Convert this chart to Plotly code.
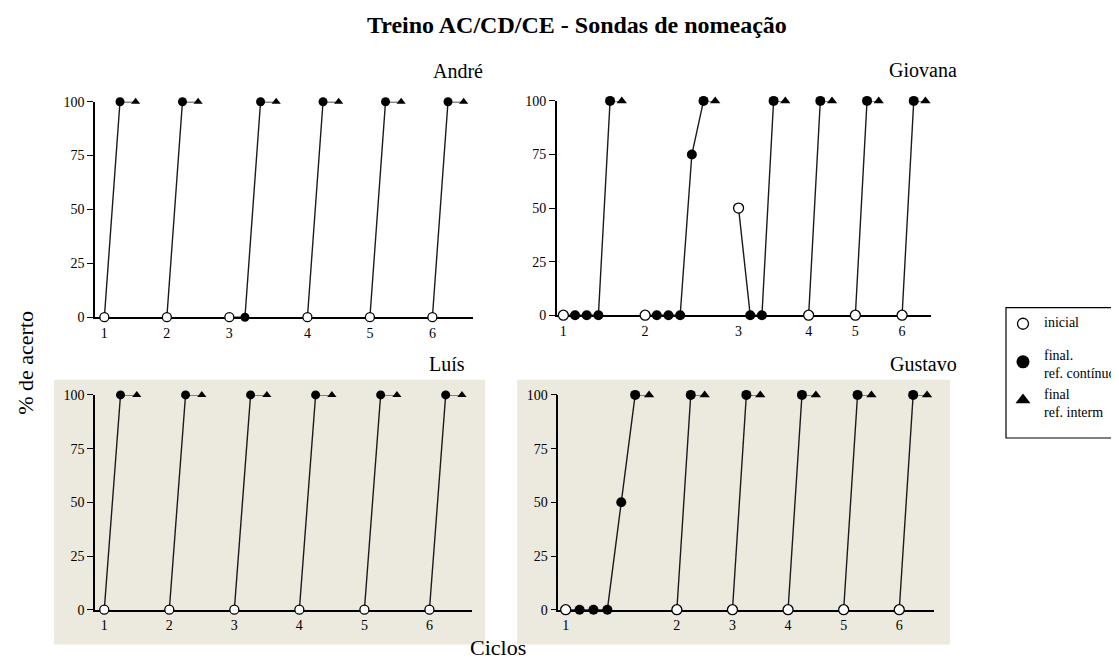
import plotly.graph_objects as go

W, H = 1119, 661
# where the page actually puts the figure in the photographed window (measured)
OFF_X, OFF_Y, SCALE_Y = 8, 15, 0.975
SERIF = "Liberation Serif, Times New Roman, serif"

# ---------------- data ----------------
title = "Treino AC/CD/CE - Sondas de nomeação"
cycle_labels = ["1", "2", "3", "4", "5", "6"]
participants = ["André", "Giovana", "Luís", "Gustavo"]

# % de acerto: initial probe, final probes (continuous reinforcement), final probe (intermittent)
andre_initial = [0, 0, 0, 0, 0, 0]
andre_final = [[100], [100], [0, 100], [100], [100], [100]]
andre_interm = [100, 100, 100, 100, 100, 100]

giovana_initial = [0, 0, 50, 0, 0, 0]
giovana_final = [[0, 0, 0, 100], [0, 0, 0, 75, 100], [0, 0, 100], [100], [100], [100]]
giovana_interm = [100, 100, 100, 100, 100, 100]

luis_initial = [0, 0, 0, 0, 0, 0]
luis_final = [[100], [100], [100], [100], [100], [100]]
luis_interm = [100, 100, 100, 100, 100, 100]

gustavo_initial = [0, 0, 0, 0, 0, 0]
gustavo_final = [[0, 0, 0, 50, 100], [100], [100], [100], [100], [100]]
gustavo_interm = [100, 100, 100, 100, 100, 100]

legend_labels = ["inicial", "final.<br>ref. contínuo", "final<br>ref. interm"]

# ---------------- layout helpers ----------------
def px(x):
    return (x - OFF_X) / W


def py(y):
    return 1 - ((y - OFF_Y) / SCALE_Y) / H


def sequence(initial, finals, interm):
    """Place the probes of each cycle on consecutive sessions, one empty slot between cycles."""
    xi, yi, xf, yf, xt, yt, xl, yl, starts = [], [], [], [], [], [], [], [], []
    pos = 0
    for a, fs, b in zip(initial, finals, interm):
        starts.append(pos)
        xi.append(pos); yi.append(a); xl.append(pos); yl.append(a)
        pos += 1
        for f in fs:
            xf.append(pos); yf.append(f); xl.append(pos); yl.append(f)
            pos += 1
        xt.append(pos); yt.append(b); xl.append(pos); yl.append(b)
        xl.append(None); yl.append(None)
        pos += 2
    return xi, yi, xf, yf, xt, yt, xl, yl, starts


panels = [
    # name, data, x-domain px, y-domain px (top,bottom), x-range, marker size, shaded, name right edge
    ("André", (andre_initial, andre_final, andre_interm), (95, 473), (101.5, 316.5), (-0.6, 23.6), 9, False, 485),
    ("Giovana", (giovana_initial, giovana_final, giovana_interm), (556.7, 930.7), (100.7, 314.5), (-0.57, 31.45), 10, False, 959),
    ("Luís", (luis_initial, luis_final, luis_interm), (95, 471.7), (394, 608.3), (-0.57, 22.6), 9, True, 467),
    ("Gustavo", (gustavo_initial, gustavo_final, gustavo_interm), (558.3, 934), (394, 608.3), (-0.53, 26.5), 10, True, 959),
]
shade_boxes = {"Luís": (54, 379, 485, 643), "Gustavo": (517, 379, 950, 643)}
BEIGE = "#ECE9DF"

fig = go.Figure()
layout = dict(
    width=W, height=H,
    margin=dict(l=0, r=0, t=0, b=0),
    paper_bgcolor="white", plot_bgcolor="rgba(0,0,0,0)",
    showlegend=False,
    font=dict(family=SERIF, color="black"),
)
shapes = []
annotations = []

for i, (name, data, xd, yd, xr, msize, shaded, name_right) in enumerate(panels, start=1):
    xi, yi, xf, yf, xt, yt, xl, yl, starts = sequence(*data)
    xa = "x" if i == 1 else f"x{i}"
    ya = "y" if i == 1 else f"y{i}"
    fig.add_trace(go.Scatter(x=xl, y=yl, mode="lines", xaxis=xa, yaxis=ya,
                             line=dict(color="#1a1a1a", width=1.4), cliponaxis=False, hoverinfo="skip"))
    fig.add_trace(go.Scatter(x=xf, y=yf, mode="markers", xaxis=xa, yaxis=ya, cliponaxis=False,
                             marker=dict(symbol="circle", size=msize, color="black")))
    fig.add_trace(go.Scatter(x=xt, y=yt, mode="markers", xaxis=xa, yaxis=ya, cliponaxis=False,
                             marker=dict(symbol="triangle-up", size=msize - 1, color="black")))
    fig.add_trace(go.Scatter(x=xi, y=yi, mode="markers", xaxis=xa, yaxis=ya, cliponaxis=False,
                             marker=dict(symbol="circle", size=msize, color="white",
                                         line=dict(color="black", width=1.3))))
    xkey = "xaxis" if i == 1 else f"xaxis{i}"
    ykey = "yaxis" if i == 1 else f"yaxis{i}"
    layout[xkey] = dict(domain=[px(xd[0]), px(xd[1])], range=list(xr), anchor=ya,
                        showline=True, linecolor="black", linewidth=1.5, showgrid=False, zeroline=False,
                        tickvals=starts, ticktext=cycle_labels, ticks="", layer="below traces",
                        ticklabelstandoff=2,
                        tickfont=dict(family=SERIF, size=14, color="black"), fixedrange=True)
    layout[ykey] = dict(domain=[py(yd[1]), py(yd[0])], range=[0, 100], anchor=xa,
                        showline=True, linecolor="black", linewidth=1.5, showgrid=False, zeroline=False,
                        tickvals=[0, 25, 50, 75, 100], ticks="outside", ticklen=6, tickwidth=1.3,
                        tickcolor="black", layer="below traces",
                        tickfont=dict(family=SERIF, size=14, color="black"), fixedrange=True)
    annotations.append(dict(text=name, xref="paper", yref="paper", x=px(name_right),
                            y=py(yd[0] - 31), xanchor="right", yanchor="middle", showarrow=False,
                            font=dict(family=SERIF, size=20, color="black")))
    if shaded:
        x0, y0, x1, y1 = shade_boxes[name]
        shapes.append(dict(type="rect", xref="paper", yref="paper", x0=px(x0), x1=px(x1),
                           y0=py(y1), y1=py(y0), fillcolor=BEIGE, line=dict(width=0), layer="below"))

# title and axis titles
annotations.append(dict(text=f"<b>{title}</b>", xref="paper", yref="paper", x=px(577), y=py(25),
                        xanchor="center", yanchor="middle", showarrow=False,
                        font=dict(family=SERIF, size=24, color="black")))
annotations.append(dict(text="% de acerto", xref="paper", yref="paper", x=px(26), y=py(362),
                        xanchor="center", yanchor="middle", textangle=-90, showarrow=False,
                        font=dict(family=SERIF, size=22, color="black")))
annotations.append(dict(text="Ciclos", xref="paper", yref="paper", x=px(498), y=py(646),
                        xanchor="center", yanchor="middle", showarrow=False,
                        font=dict(family=SERIF, size=22, color="black")))

# legend (manual, box cut at right edge)
shapes.append(dict(type="rect", xref="paper", yref="paper", x0=px(1006), x1=px(1150),
                   y0=py(437), y1=py(307), line=dict(color="black", width=1.2), fillcolor="white",
                   layer="below"))
leg_y = [323, 361, 399]
leg_text_y = [322, 364, 403]
layout["xaxis5"] = dict(domain=[0, 1], range=[OFF_X, W + OFF_X], visible=False,
                        anchor="y5", fixedrange=True)
layout["yaxis5"] = dict(domain=[0, 1], range=[OFF_Y + SCALE_Y * H, OFF_Y], visible=False,
                        anchor="x5", fixedrange=True)
leg_styles = [
    dict(symbol="circle", size=11, color="white", line=dict(color="black", width=1.3)),
    dict(symbol="circle", size=13, color="black"),
    dict(symbol="triangle-up", size=13, color="black"),
]
for lab, ym, yt, st in zip(legend_labels, leg_y, leg_text_y, leg_styles):
    fig.add_trace(go.Scatter(x=[1023], y=[ym], mode="markers", xaxis="x5", yaxis="y5",
                             marker=st, cliponaxis=False, hoverinfo="skip"))
    annotations.append(dict(text=lab, xref="paper", yref="paper", x=px(1042), y=py(yt),
                            xanchor="left", yanchor="middle", align="left", showarrow=False,
                            font=dict(family=SERIF, size=14, color="black")))

layout["shapes"] = shapes
layout["annotations"] = annotations
fig.update_layout(**layout)
fig.write_html("out.html")
